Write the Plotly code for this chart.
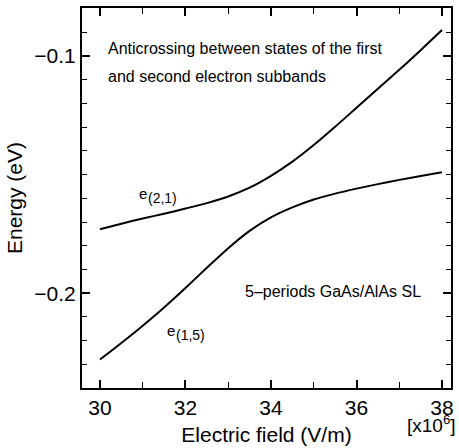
import plotly.graph_objects as go

field = [30, 30.5, 31, 31.5, 32, 32.5, 33, 33.5, 34, 34.5, 35, 35.5, 36, 36.5, 37, 37.5, 38]
e21 = [-0.1730, -0.1707, -0.1685, -0.1665, -0.1643, -0.1620, -0.1592, -0.1555, -0.1505,
       -0.1445, -0.1375, -0.1298, -0.1218, -0.1138, -0.1058, -0.0975, -0.0890]
e15 = [-0.2280, -0.2210, -0.2137, -0.2060, -0.1978, -0.1893, -0.1810, -0.1737, -0.1680,
       -0.1638, -0.1605, -0.1580, -0.1559, -0.1540, -0.1522, -0.1506, -0.1490]

FONT = "Liberation Sans, Arial, Helvetica, sans-serif"

fig = go.Figure()
for ys in (e21, e15):
    fig.add_trace(go.Scatter(x=field, y=ys, mode="lines",
                             line=dict(color="black", width=2, shape="spline", smoothing=0.8),
                             showlegend=False, hoverinfo="skip"))

ann = [
    dict(x=30.13, y=-0.0966, text="Anticrossing between states of the first", size=16),
    dict(x=30.13, y=-0.1084, text="and second electron subbands", size=16),
    dict(x=30.858, y=-0.1580, text="e", size=15),
    dict(x=31.07, y=-0.1599, text="(2,1)", size=14),
    dict(x=31.52, y=-0.2157, text="e", size=15),
    dict(x=31.73, y=-0.2177, text="(1,5)", size=14),
    dict(x=33.35, y=-0.1992, text="5\u2013periods GaAs/AlAs SL", size=16),
]
for a in ann:
    fig.add_annotation(x=a["x"], y=a["y"], xref="x", yref="y", text=a["text"], showarrow=False,
                       xanchor="left", yanchor="middle",
                       font=dict(family=FONT, size=a["size"], color="black"))

fig.add_annotation(x=1.02, y=-0.094, xref="paper", yref="paper", text="[x10<sup>6</sup>]",
                   showarrow=False, xanchor="right", yanchor="middle",
                   font=dict(family=FONT, size=19, color="black"))

fig.update_layout(
    width=459, height=448,
    margin=dict(l=82, r=8, t=8, b=60),
    paper_bgcolor="white", plot_bgcolor="white",
    font=dict(family=FONT, size=21, color="black"),
    xaxis=dict(range=[29.58, 38.21], dtick=2, tick0=30, ticks="inside", ticklen=8, tickwidth=1.5,
               showline=True, linewidth=2, linecolor="black", mirror="ticks", showgrid=False,
               zeroline=False, tickcolor="black", tickfont=dict(size=21), automargin=False,
               minor=dict(dtick=1, tick0=30, ticks="inside", ticklen=6, tickwidth=1.3,
                          tickcolor="black"),
               title=dict(text="Electric field (V/m)", font=dict(size=21), standoff=9)),
    yaxis=dict(range=[-0.2400, -0.0797], dtick=0.1, tick0=-0.2, ticks="inside", ticklen=8,
               tickwidth=1.5, showline=True, linewidth=2, linecolor="black", mirror="ticks",
               showgrid=False, zeroline=False, tickcolor="black", tickformat=".1f",
               tickfont=dict(size=21), automargin=False,
               minor=dict(dtick=0.01, tick0=-0.2, ticks="inside", ticklen=5, tickwidth=1.3,
                          tickcolor="black"),
               title=dict(text="Energy (eV)", font=dict(size=21), standoff=6)),
)

fig.write_html("out.html")
